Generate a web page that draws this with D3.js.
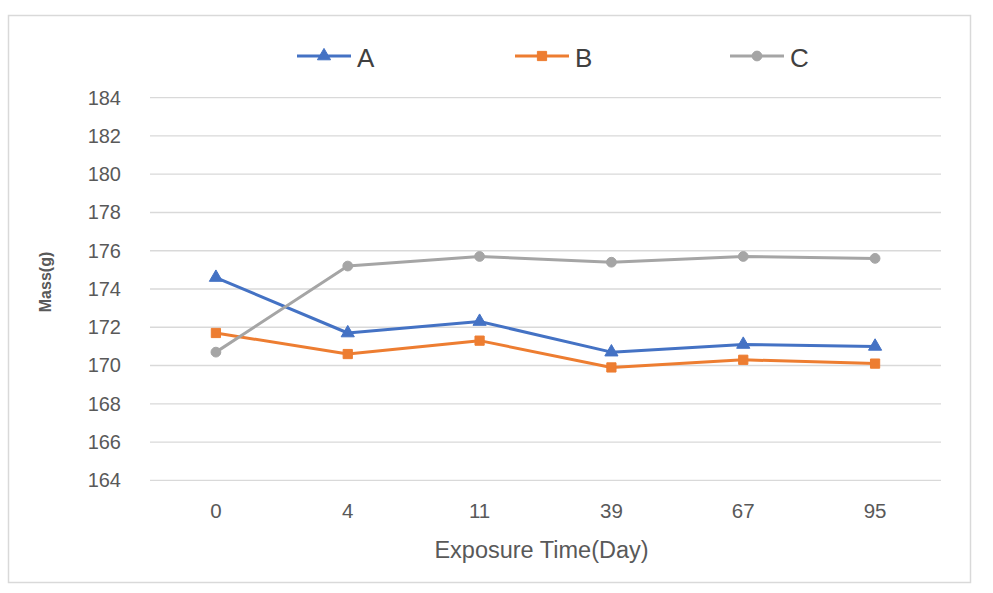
<!DOCTYPE html>
<html><head><meta charset="utf-8">
<script src="https://cdn.jsdelivr.net/npm/d3@7"></script>
<style>body{margin:0;background:#fff}svg{display:block}</style>
</head><body>
<script>
const categories = ["0","4","11","39","67","95"];
const seriesNames = ["A","B","C"];
const valuesA = [174.6,171.7,172.3,170.7,171.1,171.0];
const valuesB = [171.7,170.6,171.3,169.9,170.3,170.1];
const valuesC = [170.7,175.2,175.7,175.4,175.7,175.6];
const yTicks = [164,166,168,170,172,174,176,178,180,182,184];
const colors = ["#4472C4","#ED7D31","#A5A5A5"];
const markers = ["triangle","square","circle"];

(function(){
const W=993,H=593;
const svg=d3.select("body").append("svg").attr("width",W).attr("height",H);
svg.append("rect").attr("x",8.5).attr("y",15.5).attr("width",962).attr("height",567)
  .attr("fill","#fff").attr("stroke","#d9d9d9").attr("stroke-width",1.5);

const pL=150,pR=941,pT=97.7,pB=480.3;
const x=d3.scaleBand().domain(categories).range([pL,pR]);
const y=d3.scaleLinear().domain([164,184]).range([pB,pT]);
const font="'Liberation Sans', Arial, sans-serif";

svg.append("g").selectAll("line").data(yTicks).join("line")
  .attr("x1",pL).attr("x2",pR).attr("y1",d=>y(d)).attr("y2",d=>y(d))
  .attr("stroke","#d9d9d9").attr("stroke-width",1.3);

const yAxis=d3.axisLeft(y).tickValues(yTicks).tickSize(0).tickPadding(0);
const gy=svg.append("g").attr("transform",`translate(121,0)`).call(yAxis);
gy.select(".domain").remove();
gy.selectAll("text").attr("font-family",font).attr("font-size",20).attr("fill","#595959");

const xAxis=d3.axisBottom(x).tickSize(0).tickPadding(0);
const gx=svg.append("g").attr("transform",`translate(0,503.5)`).call(xAxis);
gx.select(".domain").remove();
gx.selectAll("text").attr("font-family",font).attr("font-size",20.5).attr("fill","#595959");

svg.append("text").attr("x",541.5).attr("y",558).attr("text-anchor","middle")
  .attr("font-family",font).attr("font-size",23.5).attr("fill","#595959").text("Exposure Time(Day)");
svg.append("text").attr("transform","translate(51,282) rotate(-90)").attr("text-anchor","middle")
  .attr("font-family",font).attr("font-size",16).attr("font-weight","bold").attr("fill","#595959").text("Mass(g)");

const data=[valuesA,valuesB,valuesC];
const symType={triangle:d3.symbolTriangle,square:d3.symbolSquare,circle:d3.symbolCircle};
const symSize={triangle:75,square:85,circle:75};

const line=d3.line().x((d,i)=>x(categories[i])+x.bandwidth()/2).y(d=>y(d));
data.forEach((vals,si)=>{
  svg.append("path").datum(vals).attr("d",line).attr("fill","none")
    .attr("stroke",colors[si]).attr("stroke-width",3).attr("stroke-linejoin","round");
  svg.append("g").selectAll("path").data(vals).join("path")
    .attr("d",d3.symbol().type(symType[markers[si]]).size(symSize[markers[si]]))
    .attr("transform",(d,i)=>`translate(${x(categories[i])+x.bandwidth()/2},${y(d)})`)
    .attr("fill",colors[si]).attr("stroke",colors[si]).attr("stroke-width",1);
});

const legX=[297,515,730];
seriesNames.forEach((n,si)=>{
  const g=svg.append("g").attr("transform",`translate(${legX[si]},56)`);
  g.append("line").attr("x1",0).attr("x2",54).attr("stroke",colors[si]).attr("stroke-width",3);
  g.append("path").attr("d",d3.symbol().type(symType[markers[si]]).size(symSize[markers[si]]))
    .attr("transform","translate(27,0)").attr("fill",colors[si]).attr("stroke",colors[si]);
  g.append("text").attr("x",60).attr("y",10.5).attr("font-family",font).attr("font-size",26)
    .attr("fill","#404040").text(n);
});
})();
</script>
</body></html>
